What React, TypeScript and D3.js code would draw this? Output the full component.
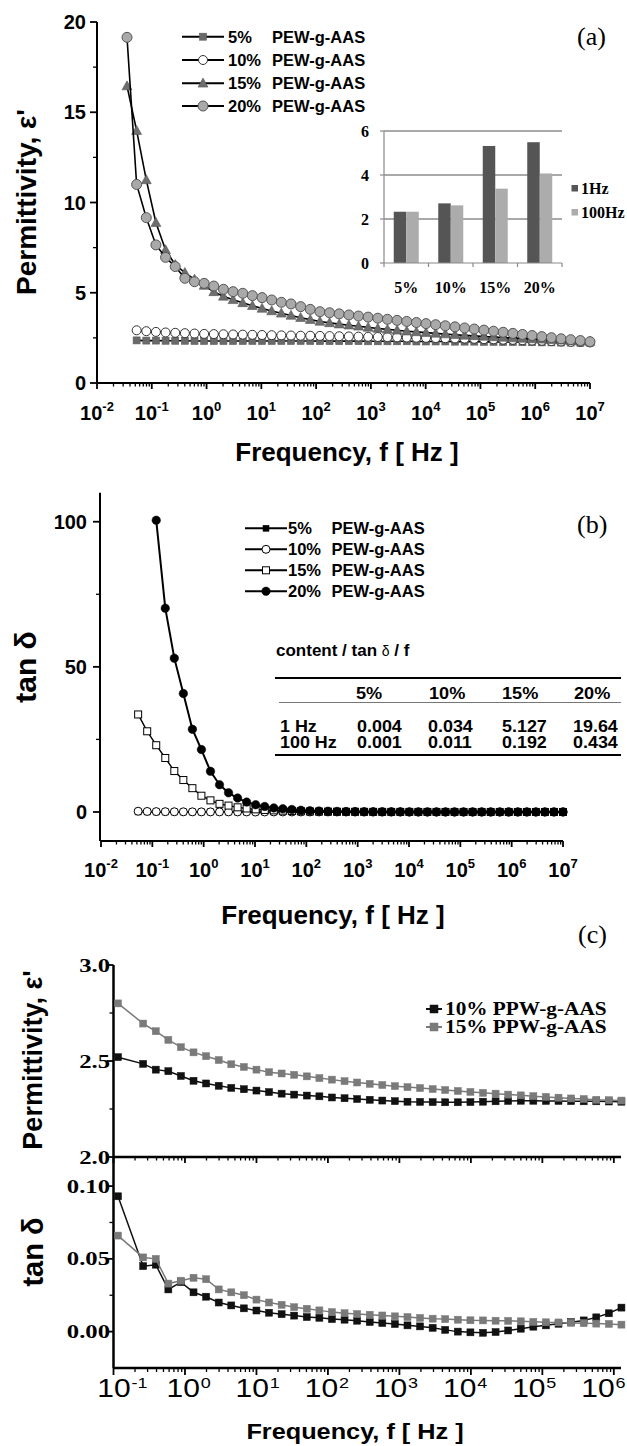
import React from "react";
import * as d3 from "d3";

// ---------------- DATA ----------------
// Panels (a) and (b): measured frequencies [Hz]
const FREQ_AB = [0.0353, 0.0529, 0.0794, 0.1191, 0.1787, 0.268, 0.402, 0.603, 0.904, 1.357, 2.035, 3.05, 4.58, 6.87, 10.3, 15.45, 23.2, 34.8, 52.2, 78.2, 117.3, 176, 264, 396, 594, 891, 1337, 2005, 3007, 4511, 6766, 10150, 15220, 22840, 34250, 51380, 77070, 115600, 173400, 260100, 390200, 585300, 877900, 1317000, 1975000, 2963000, 4444000, 6667000, 10000000];

// (a) permittivity (series shorter than FREQ_AB start at a later frequency)
const A_EPS_5 = [2.36, 2.35, 2.35, 2.34, 2.34, 2.34, 2.33, 2.33, 2.33, 2.33, 2.33, 2.33, 2.33, 2.33, 2.33, 2.33, 2.33, 2.33, 2.33, 2.32, 2.32, 2.32, 2.32, 2.32, 2.31, 2.31, 2.31, 2.31, 2.31, 2.30, 2.30, 2.30, 2.30, 2.29, 2.29, 2.29, 2.28, 2.28, 2.27, 2.27, 2.26, 2.26, 2.25, 2.25, 2.24, 2.24, 2.23, 2.23];
const A_EPS_10 = [2.92, 2.87, 2.83, 2.80, 2.78, 2.76, 2.74, 2.72, 2.71, 2.70, 2.69, 2.68, 2.67, 2.66, 2.65, 2.64, 2.63, 2.62, 2.62, 2.61, 2.60, 2.59, 2.58, 2.57, 2.56, 2.55, 2.54, 2.53, 2.52, 2.51, 2.50, 2.49, 2.48, 2.47, 2.46, 2.45, 2.43, 2.42, 2.40, 2.39, 2.37, 2.35, 2.34, 2.32, 2.30, 2.28, 2.27, 2.25];
const A_EPS_15 = [16.45, 13.98, 11.25, 8.88, 7.37, 6.55, 6.11, 5.74, 5.40, 5.05, 4.80, 4.61, 4.44, 4.28, 4.13, 3.99, 3.86, 3.74, 3.62, 3.51, 3.41, 3.33, 3.26, 3.20, 3.14, 3.08, 3.02, 2.97, 2.92, 2.87, 2.83, 2.79, 2.75, 2.71, 2.67, 2.64, 2.61, 2.58, 2.55, 2.52, 2.49, 2.47, 2.44, 2.42, 2.40, 2.37, 2.35, 2.32, 2.30];
const A_EPS_20 = [19.15, 11.0, 9.16, 7.65, 6.96, 6.45, 5.8, 5.61, 5.52, 5.37, 5.19, 5.06, 4.97, 4.84, 4.73, 4.60, 4.47, 4.38, 4.23, 4.08, 3.95, 3.89, 3.83, 3.77, 3.71, 3.65, 3.59, 3.53, 3.47, 3.41, 3.35, 3.29, 3.23, 3.17, 3.11, 3.05, 2.99, 2.93, 2.87, 2.81, 2.75, 2.69, 2.63, 2.57, 2.51, 2.45, 2.40, 2.35, 2.29];

// (a) inset bar chart
const INSET_CATS = ["5%", "10%", "15%", "20%"];
const INSET_SERIES = ["1Hz", "100Hz"];
const INSET_1HZ = [2.33, 2.71, 5.32, 5.49];
const INSET_100HZ = [2.33, 2.62, 3.38, 4.07];
const INSET_TICKS = [0, 2, 4, 6];

// (b) tan delta
const B_TAN_5 = [0.02, 0.015, 0.011, 0.009, 0.007, 0.006, 0.005, 0.0045, 0.004, 0.0035, 0.003, 0.003, 0.0025, 0.0025, 0.002, 0.002, 0.002, 0.0015, 0.0012, 0.001, 0.001, 0.001, 0.001, 0.0009, 0.0009, 0.0008, 0.0008, 0.0008, 0.0007, 0.0007, 0.0007, 0.0007, 0.0006, 0.0006, 0.0006, 0.0006, 0.0006, 0.0006, 0.0007, 0.0007, 0.0008, 0.0009, 0.001, 0.0012, 0.0014, 0.0017, 0.002, 0.0025];
const B_TAN_10 = [0.25, 0.18, 0.13, 0.1, 0.075, 0.058, 0.046, 0.036, 0.031, 0.027, 0.024, 0.021, 0.019, 0.017, 0.015, 0.014, 0.013, 0.012, 0.011, 0.011, 0.010, 0.010, 0.009, 0.009, 0.008, 0.008, 0.008, 0.007, 0.007, 0.007, 0.006, 0.006, 0.006, 0.006, 0.005, 0.005, 0.005, 0.005, 0.005, 0.005, 0.006, 0.006, 0.007, 0.008, 0.009, 0.011, 0.013, 0.016];
const B_TAN_15 = [33.6, 27.8, 23.0, 18.6, 14.1, 11.0, 8.2, 5.6, 4.0, 2.8, 2.2, 1.6, 1.2, 0.9, 0.7, 0.55, 0.45, 0.35, 0.25, 0.18, 0.14, 0.11, 0.09, 0.07, 0.06, 0.05, 0.04, 0.035, 0.03, 0.026, 0.023, 0.02, 0.018, 0.016, 0.014, 0.013, 0.012, 0.011, 0.01, 0.01, 0.009, 0.009, 0.009, 0.009, 0.01, 0.011, 0.012, 0.014];
const B_TAN_20 = [100.5, 70.2, 53.0, 40.8, 28.5, 21.5, 14.0, 9.4, 6.6, 4.8, 3.4, 2.5, 1.9, 1.4, 1.1, 0.85, 0.6, 0.42, 0.32, 0.25, 0.2, 0.16, 0.13, 0.1, 0.08, 0.065, 0.05, 0.04, 0.033, 0.027, 0.022, 0.018, 0.015, 0.013, 0.011, 0.01, 0.009, 0.009, 0.008, 0.008, 0.008, 0.008, 0.009, 0.01, 0.012, 0.015];

// (b) table
const TABLE_TITLE = "content / tan ";
const TABLE_HEAD = ["5%", "10%", "15%", "20%"];
const TABLE_ROWS = [
  ["1 Hz", "0.004", "0.034", "5.127", "19.64"],
  ["100 Hz", "0.001", "0.011", "0.192", "0.434"],
];

// (c) PPW-g-AAS
const FREQ_C = [0.1156, 0.2601, 0.3901, 0.5853, 0.8779, 1.317, 1.975, 2.963, 4.444, 6.667, 10, 15, 22.5, 33.75, 50.63, 75.94, 113.9, 170.9, 256.3, 384.4, 576.7, 865, 1297, 1946, 2919, 4379, 6568, 9853, 14780, 22170, 33250, 49880, 74820, 112200, 168300, 252500, 378800, 568200, 852300, 1278000];
const C_EPS_10 = [2.52, 2.485, 2.455, 2.447, 2.422, 2.397, 2.383, 2.371, 2.36, 2.353, 2.346, 2.338, 2.33, 2.325, 2.32, 2.316, 2.31, 2.306, 2.302, 2.298, 2.294, 2.291, 2.288, 2.287, 2.286, 2.285, 2.285, 2.286, 2.288, 2.29, 2.292, 2.293, 2.293, 2.292, 2.292, 2.291, 2.29, 2.29, 2.289, 2.288];
const C_EPS_15 = [2.80, 2.695, 2.655, 2.61, 2.572, 2.545, 2.525, 2.505, 2.483, 2.469, 2.455, 2.442, 2.435, 2.428, 2.42, 2.411, 2.403, 2.395, 2.388, 2.381, 2.375, 2.369, 2.364, 2.359, 2.354, 2.349, 2.344, 2.339, 2.334, 2.33, 2.325, 2.321, 2.317, 2.313, 2.309, 2.305, 2.302, 2.298, 2.296, 2.294];
const C_TAN_10 = [0.093, 0.045, 0.046, 0.029, 0.034, 0.027, 0.024, 0.020, 0.018, 0.016, 0.0145, 0.013, 0.012, 0.011, 0.0100, 0.0095, 0.0086, 0.0082, 0.0075, 0.0066, 0.0059, 0.0052, 0.0043, 0.0036, 0.0026, 0.0012, 0.0000, -0.0005, -0.0008, -0.0003, 0.0008, 0.0020, 0.0034, 0.0043, 0.0054, 0.0065, 0.0077, 0.0098, 0.0126, 0.0165];
const C_TAN_15 = [0.066, 0.051, 0.050, 0.033, 0.035, 0.037, 0.036, 0.029, 0.027, 0.025, 0.022, 0.020, 0.0184, 0.0168, 0.0157, 0.0146, 0.0134, 0.0127, 0.0121, 0.0116, 0.0111, 0.0105, 0.0100, 0.0094, 0.0089, 0.0086, 0.0082, 0.0078, 0.0077, 0.0075, 0.0074, 0.0071, 0.0067, 0.0064, 0.0063, 0.0060, 0.0058, 0.0055, 0.0053, 0.0048];

const A_LEGEND = ["5%", "10%", "15%", "20%"];
const C_LEGEND = ["10% PPW-g-AAS", "15% PPW-g-AAS"];

const A_YTICKS = [0, 5, 10, 15, 20];
const A_YMINOR = [2.5, 7.5, 12.5, 17.5];
const B_YTICKS = [0, 50, 100];
const B_YMINOR = [25, 75];
const C_TOP_TICKS = [2.0, 2.5, 3.0];
const C_TOP_MINOR = [2.25, 2.75];
const C_BOT_TICKS = [0.0, 0.05, 0.1];
const C_BOT_MINOR = [0.025, 0.075];
const C_XLABEL_EXP = [-1, 0, 1, 2, 3, 4, 5, 6];

// ---------------- STYLE ----------------
const SANS = "'Liberation Sans', Arial, Helvetica, sans-serif";
const SERIF = "'Liberation Serif', 'Times New Roman', Times, serif";

type Pt = [number, number];
type Shape = "circle" | "square" | "triangle";

function logTicks(lo: number, hi: number) {
  const out: { v: number; major: boolean; e: number }[] = [];
  for (let e = Math.floor(Math.log10(lo)); e <= Math.ceil(Math.log10(hi)); e++) {
    for (let m = 1; m < 10; m++) {
      const v = m * Math.pow(10, e);
      if (v >= lo * 0.9999 && v <= hi * 1.0001) out.push({ v, major: m === 1, e });
    }
  }
  return out;
}

function pairs(freq: number[], vals: number[]): Pt[] {
  const off = freq.length - vals.length;
  return vals.map((v, i) => [freq[i + off], v]);
}

function Marker(p: { shape: Shape; x: number; y: number; size: number; fill: string; stroke: string; sw: number }) {
  const { shape, x, y, size, fill, stroke, sw } = p;
  if (shape === "circle") return <circle cx={x} cy={y} r={size / 2} fill={fill} stroke={stroke} strokeWidth={sw} />;
  if (shape === "square")
    return <rect x={x - size / 2} y={y - size / 2} width={size} height={size} fill={fill} stroke={stroke} strokeWidth={sw} />;
  const h = size;
  return (
    <path
      d={`M${x},${y - h * 0.58}L${x + h * 0.55},${y + h * 0.42}L${x - h * 0.55},${y + h * 0.42}Z`}
      fill={fill}
      stroke={stroke}
      strokeWidth={sw}
    />
  );
}

function Series(p: {
  data: Pt[];
  xs: (v: number) => number;
  ys: (v: number) => number;
  shape: Shape;
  size: number;
  fill: string;
  stroke: string;
  sw: number;
  line: string;
  lw: number;
}) {
  const line = d3
    .line<Pt>()
    .x((d) => p.xs(d[0]))
    .y((d) => p.ys(d[1]));
  return (
    <g>
      <path d={line(p.data) || ""} fill="none" stroke={p.line} strokeWidth={p.lw} />
      {p.data.map((d, i) => (
        <Marker key={i} shape={p.shape} x={p.xs(d[0])} y={p.ys(d[1])} size={p.size} fill={p.fill} stroke={p.stroke} sw={p.sw} />
      ))}
    </g>
  );
}

function ST(p: {
  x: number;
  y: number;
  sx?: number;
  anchor?: "start" | "middle" | "end";
  size: number;
  family: string;
  weight?: string | number;
  fill?: string;
  children: React.ReactNode;
}) {
  return (
    <text
      transform={`translate(${p.x},${p.y}) scale(${p.sx ?? 1},1)`}
      textAnchor={p.anchor ?? "start"}
      fontSize={p.size}
      fontFamily={p.family}
      fontWeight={p.weight ?? "normal"}
      fill={p.fill ?? "#000"}
    >
      {p.children}
    </text>
  );
}

function PowLabel(p: { x: number; y: number; e: number; size: number; sup: number; dy: number; bold: boolean; sx?: number }) {
  return (
    <ST x={p.x} y={p.y} sx={p.sx} anchor="middle" size={p.size} family={SANS} weight={p.bold ? "bold" : "normal"}>
      10
      <tspan fontSize={p.sup} dy={-p.dy}>
        {p.e < 0 ? `-${-p.e}` : `${p.e}`}
      </tspan>
    </ST>
  );
}

function LogXAxis(p: {
  xs: d3.ScaleLogarithmic<number, number>;
  y: number;
  lo: number;
  hi: number;
  major: number;
  minor: number;
  sw: number;
}) {
  const [x0, x1] = p.xs.range();
  return (
    <g>
      <line x1={x0} x2={x1} y1={p.y} y2={p.y} stroke="#000" strokeWidth={p.sw} />
      {logTicks(p.lo, p.hi).map((t, i) => (
        <line
          key={i}
          x1={p.xs(t.v)}
          x2={p.xs(t.v)}
          y1={p.y}
          y2={p.y + (t.major ? p.major : p.minor)}
          stroke="#000"
          strokeWidth={t.major ? 1.8 : 1.3}
        />
      ))}
    </g>
  );
}

export default function App() {
  // ---------- Panel (a) ----------
  const xA = d3.scaleLog().domain([1e-2, 1e7]).range([97, 590]);
  const yA = d3.scaleLinear().domain([0, 20]).range([383, 22]);

  const aSeries = [
    { data: pairs(FREQ_AB, A_EPS_5), shape: "square" as Shape, size: 7, fill: "#6a6a6a", stroke: "#5a5a5a", sw: 0.6 },
    { data: pairs(FREQ_AB, A_EPS_10), shape: "circle" as Shape, size: 9, fill: "#fff", stroke: "#333", sw: 1 },
    { data: pairs(FREQ_AB, A_EPS_15), shape: "triangle" as Shape, size: 9, fill: "#6e6e6e", stroke: "#555", sw: 0.6 },
    { data: pairs(FREQ_AB, A_EPS_20), shape: "circle" as Shape, size: 10, fill: "#a9a9a9", stroke: "#555", sw: 1 },
  ];

  // inset
  const xI = d3.scaleBand<string>().domain(INSET_CATS).range([384, 562]);
  const xI2 = d3.scaleBand<string>().domain(INSET_SERIES).range([0, 25]);
  const yI = d3.scaleLinear().domain([0, 6]).range([263, 131]);
  const insetColors = ["#555555", "#acacac"];
  const insetVals = [INSET_1HZ, INSET_100HZ];

  // ---------- Panel (b) ----------
  const xB = d3.scaleLog().domain([1e-2, 1e7]).range([101, 563]);
  const yB = d3.scaleLinear().domain([-10, 110]).range([841, 492.7]);
  const bSeries = [
    { data: pairs(FREQ_AB, B_TAN_5), shape: "square" as Shape, size: 6, fill: "#000", stroke: "#000", sw: 0.5, lw: 1.4 },
    { data: pairs(FREQ_AB, B_TAN_10), shape: "circle" as Shape, size: 8, fill: "#fff", stroke: "#000", sw: 1, lw: 1.4 },
    { data: pairs(FREQ_AB, B_TAN_15), shape: "square" as Shape, size: 7, fill: "#fff", stroke: "#000", sw: 1, lw: 1.4 },
    { data: pairs(FREQ_AB, B_TAN_20), shape: "circle" as Shape, size: 8.5, fill: "#000", stroke: "#000", sw: 0.5, lw: 2 },
  ];

  // ---------- Panel (c) ----------
  const xC = d3.scaleLog().domain([0.1, 1.26e6]).range([113.5, 621]);
  const yCt = d3.scaleLinear().domain([2.0, 3.0]).range([1157, 965]);
  const yCb = d3.scaleLinear().domain([-0.025, 0.12]).range([1368, 1157]);
  // tick labels of (c) sit on their own (slightly tighter) spacing in the source
  const xCLabel = d3.scaleLinear().domain([-1, 6]).range([114, 598]);
  const cColors = ["#111111", "#7a7a7a"];

  const legendLines = (x0: number, rows: number[], series: any[]) =>
    series.map((s, i) => (
      <g key={i}>
        <line x1={x0} x2={x0 + 42} y1={rows[i]} y2={rows[i]} stroke="#000" strokeWidth={2} />
        <Marker shape={s.shape} x={x0 + 21} y={rows[i]} size={s.size} fill={s.fill} stroke={s.stroke} sw={s.sw} />
      </g>
    ));

  const aRows = [36.7, 60, 83.3, 106];
  const bRows = [528.3, 549.3, 570.3, 591.3];
  const cRows = [1009, 1027];
  const tableCols = [280, 357, 428, 502, 573];
  const headCols = [356, 429, 502, 574];

  return (
    <svg width={627} height={1446} style={{ position: "absolute", left: 0, top: 0, background: "#fff" }}>
      <rect x={0} y={0} width={627} height={1446} fill="#fff" />

      {/* ================= PANEL (a) ================= */}
      <g>
        <line x1={97} x2={97} y1={yA(20)} y2={yA(0)} stroke="#000" strokeWidth={2} />
        {A_YTICKS.map((t) => (
          <g key={t}>
            <line x1={90} x2={97} y1={yA(t)} y2={yA(t)} stroke="#000" strokeWidth={1.8} />
            <ST x={86} y={yA(t) + 7} anchor="end" size={20} family={SANS} weight="bold">
              {t}
            </ST>
          </g>
        ))}
        {A_YMINOR.map((t) => (
          <line key={t} x1={93} x2={97} y1={yA(t)} y2={yA(t)} stroke="#000" strokeWidth={1.3} />
        ))}
        <LogXAxis xs={xA} y={383} lo={1e-2} hi={1e7} major={6} minor={3.5} sw={2} />
        {logTicks(1e-2, 1e7)
          .filter((t) => t.major)
          .map((t) => (
            <PowLabel key={t.e} x={xA(t.v)} y={420} e={t.e} size={20} sup={13} dy={9} bold />
          ))}

        {aSeries.map((s, i) => (
          <Series key={i} data={s.data} xs={xA} ys={yA} shape={s.shape} size={s.size} fill={s.fill} stroke={s.stroke} sw={s.sw} line="#000" lw={1.6} />
        ))}

        {legendLines(182, aRows, aSeries)}
        {A_LEGEND.map((l, i) => (
          <g key={l}>
            <ST x={228} y={aRows[i] + 6} size={16.5} family={SANS} weight="bold">
              {l}
            </ST>
            <ST x={272} y={aRows[i] + 6} size={16.5} family={SANS} weight="bold">
              PEW-g-AAS
            </ST>
          </g>
        ))}

        <ST x={577} y={45} size={26} family={SERIF}>
          (a)
        </ST>

        <text transform="translate(36,202) rotate(-90)" textAnchor="middle" fontSize={28} fontFamily={SANS} fontWeight="bold">
          Permittivity, ε'
        </text>
        <ST x={347} y={461} anchor="middle" size={26} family={SANS} weight="bold">
          Frequency, f [ Hz ]
        </ST>

        {/* inset */}
        <g>
          {INSET_TICKS.filter((t) => t > 0).map((t) => (
            <line key={t} x1={384} x2={562} y1={yI(t)} y2={yI(t)} stroke="#555" strokeWidth={1.2} />
          ))}
          {INSET_CATS.map((c, ci) =>
            INSET_SERIES.map((s, si) => (
              <rect
                key={c + s}
                x={(xI(c) as number) + (xI.bandwidth() - 25) / 2 + (xI2(s) as number)}
                y={yI(insetVals[si][ci])}
                width={xI2.bandwidth()}
                height={yI(0) - yI(insetVals[si][ci])}
                fill={insetColors[si]}
              />
            ))
          )}
          <line x1={384} x2={384} y1={yI(6)} y2={yI(0)} stroke="#8a8a8a" strokeWidth={1.2} />
          <line x1={384} x2={562} y1={yI(0)} y2={yI(0)} stroke="#8a8a8a" strokeWidth={1.2} />
          {INSET_TICKS.map((t) => (
            <g key={t}>
              <line x1={380} x2={384} y1={yI(t)} y2={yI(t)} stroke="#8a8a8a" strokeWidth={1.2} />
              <ST x={369} y={yI(t) + 5.5} anchor="end" size={16} family={SERIF} weight="bold">
                {t}
              </ST>
            </g>
          ))}
          {[...INSET_CATS.map((c) => xI(c) as number), 562].map((x, i) => (
            <line key={i} x1={x} x2={x} y1={yI(0)} y2={yI(0) + 4} stroke="#8a8a8a" strokeWidth={1.2} />
          ))}
          {INSET_CATS.map((c) => (
            <ST key={c} x={(xI(c) as number) + xI.bandwidth() / 2} y={293} anchor="middle" size={16} family={SERIF} weight="bold">
              {c}
            </ST>
          ))}
          {INSET_SERIES.map((s, si) => (
            <g key={s}>
              <rect x={571.5} y={185 + si * 24} width={6.5} height={6.5} fill={insetColors[si]} />
              <ST x={581} y={194 + si * 24} size={16} family={SERIF} weight="bold">
                {s}
              </ST>
            </g>
          ))}
        </g>
      </g>

      {/* ================= PANEL (b) ================= */}
      <g>
        <line x1={100} x2={100} y1={yB(110)} y2={yB(-10)} stroke="#000" strokeWidth={2} />
        {B_YTICKS.map((t) => (
          <g key={t}>
            <line x1={93} x2={100} y1={yB(t)} y2={yB(t)} stroke="#000" strokeWidth={1.8} />
            <ST x={87} y={yB(t) + 7} anchor="end" size={20} family={SANS} weight="bold">
              {t}
            </ST>
          </g>
        ))}
        {B_YMINOR.map((t) => (
          <line key={t} x1={96} x2={100} y1={yB(t)} y2={yB(t)} stroke="#000" strokeWidth={1.3} />
        ))}
        <LogXAxis xs={xB} y={841} lo={1e-2} hi={1e7} major={6} minor={3.5} sw={2} />
        {logTicks(1e-2, 1e7)
          .filter((t) => t.major)
          .map((t) => (
            <PowLabel key={t.e} x={xB(t.v)} y={877} e={t.e} size={20} sup={13} dy={9} bold />
          ))}

        {bSeries.map((s, i) => (
          <Series key={i} data={s.data} xs={xB} ys={yB} shape={s.shape} size={s.size} fill={s.fill} stroke={s.stroke} sw={s.sw} line="#000" lw={s.lw} />
        ))}

        {legendLines(245, bRows, bSeries)}
        {A_LEGEND.map((l, i) => (
          <g key={l}>
            <ST x={288} y={bRows[i] + 6} size={16.5} family={SANS} weight="bold">
              {l}
            </ST>
            <ST x={331.5} y={bRows[i] + 6} size={16.5} family={SANS} weight="bold">
              PEW-g-AAS
            </ST>
          </g>
        ))}

        <ST x={577} y={533} size={26} family={SERIF}>
          (b)
        </ST>

        {/* table */}
        <ST x={276} y={656} size={17} family={SANS} weight="bold">
          {TABLE_TITLE}
          <tspan fontSize={14} fontWeight="normal">δ</tspan>
          {" / f"}
        </ST>
        <line x1={275} x2={621} y1={678} y2={678} stroke="#000" strokeWidth={2} />
        <line x1={279} x2={621} y1={702.5} y2={702.5} stroke="#777" strokeWidth={1} />
        <line x1={275} x2={621} y1={755} y2={755} stroke="#000" strokeWidth={2} />
        {TABLE_HEAD.map((h, i) => (
          <ST key={h} x={headCols[i]} y={699} size={16.5} sx={1.1} family={SANS} weight="bold">
            {h}
          </ST>
        ))}
        {TABLE_ROWS.map((r, ri) =>
          r.map((c, ci) => (
            <ST key={ri + "-" + ci} x={tableCols[ci]} y={732 + ri * 15.5} size={16} sx={1.12} family={SANS} weight="bold">
              {c}
            </ST>
          ))
        )}

        <text transform="translate(36,667) rotate(-90)" textAnchor="middle" fontSize={30} fontFamily={SANS} fontWeight="bold">
          tan δ
        </text>
        <ST x={333} y={924} anchor="middle" size={26} family={SANS} weight="bold">
          Frequency, f [ Hz ]
        </ST>
      </g>

      {/* ================= PANEL (c) ================= */}
      <g>
        <ST x={578} y={943} size={26} family={SERIF}>
          (c)
        </ST>
        <line x1={113.5} x2={113.5} y1={965} y2={1368} stroke="#000" strokeWidth={2.5} />
        <LogXAxis xs={xC} y={1157} lo={0.1} hi={1.26e6} major={6} minor={3.5} sw={2.5} />
        <LogXAxis xs={xC} y={1368} lo={0.1} hi={1.26e6} major={7} minor={4} sw={2.5} />

        {C_TOP_TICKS.map((t) => (
          <g key={t}>
            <line x1={107} x2={113.5} y1={yCt(t)} y2={yCt(t)} stroke="#000" strokeWidth={1.8} />
            <ST x={110} y={yCt(t) + 6.5} anchor="end" sx={1.3} size={19} family={SERIF} weight="bold">
              {t.toFixed(1)}
            </ST>
          </g>
        ))}
        {C_TOP_MINOR.map((t) => (
          <line key={t} x1={109.5} x2={113.5} y1={yCt(t)} y2={yCt(t)} stroke="#000" strokeWidth={1.3} />
        ))}
        {C_BOT_TICKS.map((t) => (
          <g key={t}>
            <line x1={107} x2={113.5} y1={yCb(t)} y2={yCb(t)} stroke="#000" strokeWidth={1.8} />
            <ST x={110} y={yCb(t) + 6.5} anchor="end" sx={1.3} size={19} family={SERIF} weight="bold">
              {t.toFixed(2)}
            </ST>
          </g>
        ))}
        {C_BOT_MINOR.map((t) => (
          <line key={t} x1={109.5} x2={113.5} y1={yCb(t)} y2={yCb(t)} stroke="#000" strokeWidth={1.3} />
        ))}

        {[C_EPS_10, C_EPS_15].map((vals, i) => (
          <Series key={"e" + i} data={pairs(FREQ_C, vals)} xs={xC} ys={yCt} shape="square" size={7} fill={cColors[i]} stroke={cColors[i]} sw={0.5} line={cColors[i]} lw={1.5} />
        ))}
        {[C_TAN_10, C_TAN_15].map((vals, i) => (
          <Series key={"t" + i} data={pairs(FREQ_C, vals)} xs={xC} ys={yCb} shape="square" size={7} fill={cColors[i]} stroke={cColors[i]} sw={0.5} line={cColors[i]} lw={1.5} />
        ))}

        {C_LEGEND.map((l, i) => (
          <g key={l}>
            <line x1={426} x2={442} y1={cRows[i]} y2={cRows[i]} stroke={cColors[i]} strokeWidth={2} />
            <Marker shape="square" x={434} y={cRows[i]} size={8} fill={cColors[i]} stroke={cColors[i]} sw={0.5} />
            <ST x={445} y={cRows[i] + 6} size={19} sx={1.12} family={SERIF} weight="bold">
              {l}
            </ST>
          </g>
        ))}

        {C_XLABEL_EXP.map((e) => (
          <g key={e}>
            <ST x={xCLabel(e)} y={1397} anchor="middle" sx={1.2} size={25} family={SANS}>
              10
            </ST>
            <ST x={xCLabel(e) + 17.5} y={1387.5} anchor="start" sx={1.2} size={15} family={SANS}>
              {e < 0 ? `-${-e}` : `${e}`}
            </ST>
          </g>
        ))}

        <text transform="translate(42,1060) rotate(-90)" textAnchor="middle" fontSize={27} fontFamily={SANS} fontWeight="bold">
          Permittivity, ε'
        </text>
        <text transform="translate(43,1252) rotate(-90)" textAnchor="middle" fontSize={29} fontFamily={SANS} fontWeight="bold">
          tan δ
        </text>
        <ST x={355} y={1439} anchor="middle" sx={1.15} size={22} family={SANS} weight="bold">
          Frequency, f [ Hz ]
        </ST>
      </g>
    </svg>
  );
}
